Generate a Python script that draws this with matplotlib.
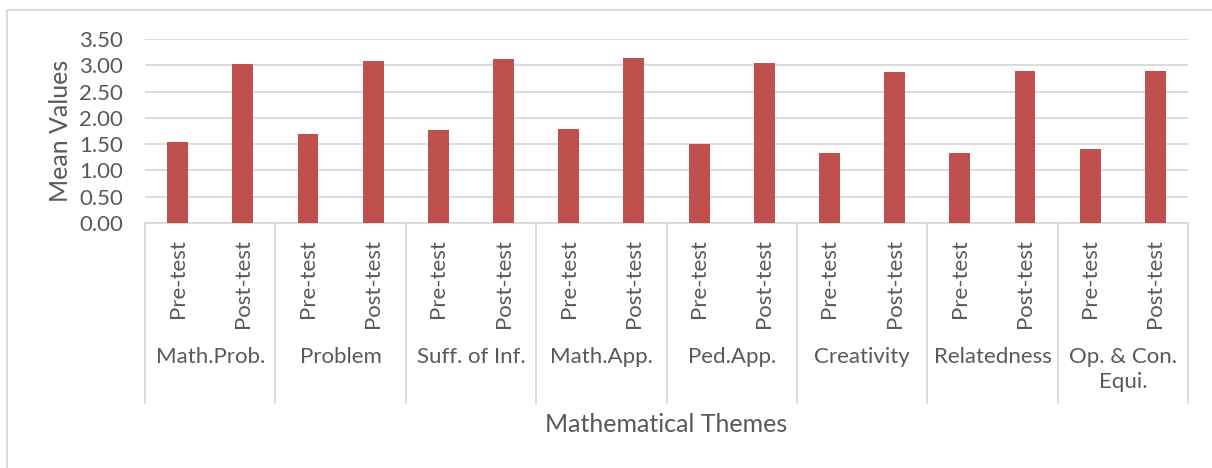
import matplotlib

matplotlib.use("Agg")
import matplotlib.pyplot as plt  # noqa: E402
import numpy as np  # noqa: E402
from matplotlib.patches import Rectangle  # noqa: E402
from matplotlib.transforms import blended_transform_factory  # noqa: E402

# Dados
temas = ["Math.Prob.", "Problem", "Suff. of Inf.", "Math.App.", "Ped.App.",
         "Creativity", "Relatedness", "Op. & Con.\nEqui."]
testes = ["Pre-test", "Post-test"]
pre = [1.54, 1.69, 1.77, 1.79, 1.51, 1.33, 1.34, 1.40]
pos = [3.02, 3.09, 3.12, 3.14, 3.04, 2.88, 2.90, 2.89]
yticks = [0.0, 0.5, 1.0, 1.5, 2.0, 2.5, 3.0, 3.5]

COR_BARRA = "#C0504D"
COR_TEXTO = "#595959"
COR_GRADE = "#D9D9D9"

plt.rcParams["font.family"] = ["Lato", "DejaVu Sans"]

W, H = 1212, 468
fig = plt.figure(figsize=(W / 100, H / 100), dpi=100)
ax = fig.add_axes([145 / W, 1 - 223 / H, (1188 - 145) / W, (223 - 39) / H])

valores = np.ravel(np.column_stack([pre, pos]))
x = np.arange(len(valores))
ax.bar(x, valores, width=0.32, color=COR_BARRA, zorder=3)

ax.set_xlim(-0.5, len(valores) - 0.5)
ax.set_ylim(0, 3.5)
ax.set_yticks(yticks)
ax.set_yticklabels([f"{v:.2f}" for v in yticks], fontsize=16, color=COR_TEXTO)
ax.tick_params(axis="y", length=0, pad=16)
ax.set_xticks([])
ax.grid(axis="y", color=COR_GRADE, linewidth=1.3, zorder=0)
for s in ["top", "right", "left"]:
    ax.spines[s].set_visible(False)
ax.spines["bottom"].set_color(COR_GRADE)
ax.spines["bottom"].set_linewidth(1.3)
ax.set_ylabel("Mean Values", fontsize=18, color=COR_TEXTO, labelpad=5)

# Eixo de categorias em dois níveis (estilo Excel)
tr = blended_transform_factory(ax.transData, fig.transFigure)
y_base = 1 - 223 / H
y_fim = 1 - 403 / H
for b in np.arange(-0.5, len(valores), 2):
    ax.plot([b, b], [y_base, y_fim], transform=tr, color=COR_GRADE,
            linewidth=1.3, clip_on=False)
for i, xi in enumerate(x):
    ax.text(xi, 1 - 239 / H, testes[i % 2], transform=tr, rotation=90,
            ha="center", va="top", fontsize=16, color=COR_TEXTO)
for g, nome in enumerate(temas):
    ax.text(2 * g + 0.5, 1 - 347 / H, nome, transform=tr, ha="center",
            va="top", fontsize=16, color=COR_TEXTO, linespacing=1.3)

fig.text((145 + 1188) / 2 / W, 1 - 425 / H, "Mathematical Themes",
         ha="center", va="center", fontsize=18, color=COR_TEXTO)

# Moldura do gráfico
fig.patches.append(Rectangle((7 / W, -0.1), 1.1, 1 - 10 / H + 0.1,
                             transform=fig.transFigure, fill=False,
                             edgecolor=COR_GRADE, linewidth=1.3))

fig.savefig("out.png", dpi=100, facecolor="white")
plt.close(fig)
